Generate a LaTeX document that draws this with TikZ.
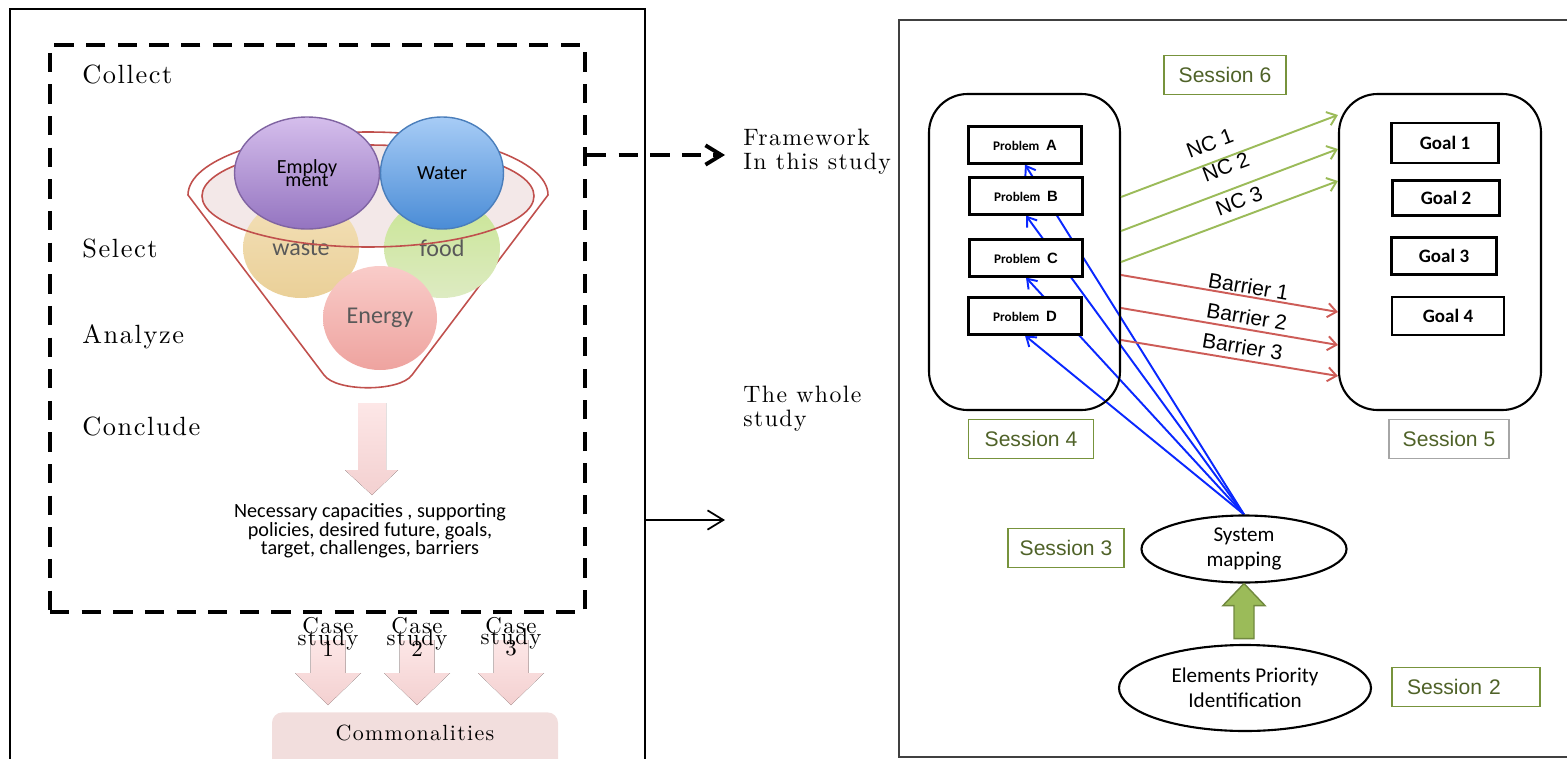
\documentclass[tikz,border=0pt]{standalone}
\usepackage{fontspec}
\newfontfamily\calibri{Carlito}
\newfontfamily\arialfont{Liberation Sans}
\newfontfamily\schfont{lmroman10-regular.otf}[LetterSpace=6]
\usepackage{xcolor}
\definecolor{funnelred}{HTML}{C0504D}
\definecolor{funnelsoft}{HTML}{F3E8E8}
\definecolor{greytext}{HTML}{595959}
\definecolor{empltop}{HTML}{D5BEEC}
\definecolor{emplbot}{HTML}{9474C0}
\definecolor{empldraw}{HTML}{8064A2}
\definecolor{watertop}{HTML}{A7CCF6}
\definecolor{waterbot}{HTML}{4A8CD6}
\definecolor{waterdraw}{HTML}{4A7EBB}
\definecolor{wastetop}{HTML}{F3E0B8}
\definecolor{wastebot}{HTML}{EAD098}
\definecolor{foodtop}{HTML}{C9E594}
\definecolor{foodbot}{HTML}{DDEBC2}
\definecolor{energytop}{HTML}{F9CCC9}
\definecolor{energybot}{HTML}{EEA39F}
\definecolor{pinktop}{HTML}{FDE7E7}
\definecolor{pinkbot}{HTML}{F3D0D0}
\definecolor{commfill}{HTML}{F2DEDD}
\definecolor{sessgreen}{HTML}{77933C}
\definecolor{sesstext}{HTML}{4F6228}
\definecolor{ncgreen}{HTML}{9BBB59}
\definecolor{barred}{HTML}{CD5C57}
\definecolor{mapblue}{HTML}{0A28FF}
\definecolor{arrowgreendark}{HTML}{71893F}
\usepackage{tikz}
\usetikzlibrary{shapes.geometric,arrows.meta,backgrounds,calc}
\lineskiplimit=-20pt % lets the stacked labels overlap as in the original
\newcommand\probletter[1]{{\arialfont\bfseries\fontsize{8.5}{9}\selectfont #1}}

\begin{document}
\begin{tikzpicture}[
  panel/.style={draw,line width=1.1pt,inner sep=0pt},
  stage/.style={anchor=west,inner sep=0pt,font=\schfont\fontsize{15}{18}\selectfont},
  note/.style={anchor=west,inner sep=0pt,align=left,font=\schfont\fontsize{13.5}{13.7}\selectfont},
  blob/.style={ellipse,inner sep=0pt,align=center,text=greytext,font=\calibri\fontsize{13.7}{16}\selectfont},
  bigblob/.style={ellipse,inner sep=0pt,align=center,line width=0.8pt,
    font=\calibri\fontsize{11.4}{7.4}\selectfont},
  pinkarrow/.style={top color=pinktop,bottom color=pinkbot,draw=none},
  casetext/.style={align=center,inner sep=0pt,font=\schfont\fontsize{13}{6.3}\selectfont},
  probbox/.style={draw,line width=1.2pt,fill=white,minimum width=2.26cm,minimum height=0.74cm,
    inner sep=0pt,font=\calibri\bfseries\fontsize{7.5}{9}\selectfont},
  goalbox/.style={draw,line width=1.2pt,fill=white,minimum width=2.14cm,minimum height=0.76cm,
    inner sep=0pt,font=\calibri\bfseries\fontsize{10.8}{13}\selectfont},
  grpbox/.style={draw,line width=1.2pt,rounded corners=22pt,minimum height=6.32cm,inner sep=0pt},
  session/.style={draw=sessgreen,line width=0.6pt,text=sesstext,minimum width=2.44cm,
    minimum height=0.78cm,inner sep=0pt,font=\arialfont\fontsize{12}{14}\selectfont},
  oval/.style={ellipse,draw,line width=1.2pt,inner sep=0pt,align=center,
    font=\calibri\fontsize{12}{14.5}\selectfont},
  flabel/.style={sloped,inner sep=0pt,text=black,font=\arialfont\fontsize{12}{14}\selectfont},
  ncline/.style={ncgreen,line width=1.1pt,-{Straight Barb[length=5pt,width=8pt]}},
  barline/.style={barred,line width=1.1pt,-{Straight Barb[length=5pt,width=8pt]}},
  mapline/.style={mapblue,line width=1.1pt,-{Straight Barb[length=5pt,width=7pt]}}]
  \useasboundingbox (0,0) rectangle (31.34,-15.18);

  % --- Left panel: the whole study ---
  \node[panel,minimum width=12.7cm,minimum height=15.42cm] (left) at (6.55,-7.89) {};
  \node[draw,line width=2.2pt,dash pattern=on 11pt off 7pt,minimum width=10.7cm,
        minimum height=11.34cm,inner sep=0pt] (frame) at (6.35,-6.57) {};
  \node[stage] (collect) at (1.64,-1.48) {Collect};
  \node[stage] (select) at (1.64,-4.96) {Select};
  \node[stage] (analyze) at (1.64,-6.74) {Analyze};
  \node[stage] (conclude) at (1.64,-8.52) {Conclude};

  % --- Funnel ---
  \draw[funnelred,line width=0.9pt] (3.76,-3.9)
    arc[start angle=180,end angle=0,x radius=3.6,y radius=1.26]
    -- (8.24,-7.5) .. controls (8.0,-7.84) and (6.72,-7.84) .. (6.48,-7.5) -- cycle;
  \fill[funnelsoft] (7.36,-3.92) ellipse[x radius=3.32,y radius=1.02];
  \node[blob,top color=wastetop,bottom color=wastebot,minimum width=2.32cm,minimum height=2cm]
    (waste) at (6.02,-4.96) {waste};
  \node[blob,top color=foodtop,bottom color=foodbot,minimum width=2.32cm,minimum height=2cm]
    (food) at (8.84,-4.96) {food};
  \draw[funnelred,line width=0.9pt] (7.36,-3.92) ellipse[x radius=3.32,y radius=1.02];
  \node[blob,top color=energytop,bottom color=energybot,minimum width=2.28cm,minimum height=2.08cm]
    (energy) at (7.6,-6.36) {Energy};
  \node[bigblob,top color=empltop,bottom color=emplbot,draw=empldraw,minimum width=2.9cm,
    minimum height=2.24cm] (empl) at (6.14,-3.46) {Employ\\ment};
  \node[bigblob,top color=watertop,bottom color=waterbot,draw=waterdraw,minimum width=2.46cm,
    minimum height=2.24cm] (water) at (8.84,-3.46) {Water};

  % --- Outcome ---
  \fill[pinkarrow] (7.16,-8.06) -- (7.72,-8.06) -- (7.72,-9.4) -- (7.96,-9.4)
    -- (7.44,-9.9) -- (6.9,-9.4) -- (7.16,-9.4) -- cycle;
  \node[align=center,font=\calibri\fontsize{11.5}{10.5}\selectfont]
    (outcome) at (7.4,-10.62) {Necessary capacities , supporting\\policies, desired future, goals,\\target, challenges, barriers};

  % --- Case studies ---
  \foreach \x/\n in {6.56/1,8.34/2,10.22/3}{
    \fill[pinkarrow] (\x-0.35,-12.8) -- (\x+0.35,-12.8) -- (\x+0.35,-13.46) -- (\x+0.66,-13.46)
      -- (\x,-14.1) -- (\x-0.66,-13.46) -- (\x-0.35,-13.46) -- cycle;
    \node[casetext] (case\n) at (\x,-12.74) {Case\\study\\\n};
  }
  \node[fill=commfill,rounded corners=6pt,minimum width=5.72cm,inner ysep=0.26cm,text depth=0.8cm,
        anchor=north,font=\schfont\fontsize{12.5}{15}\selectfont]
    (comm) at (8.3,-14.24) {Commonalities};

  % --- Links to the framework ---
  \coordinate (fwtip) at (14.5,-3.1);
  \coordinate (wholetip) at (14.5,-10.4);
  \draw[line width=2.2pt,dash pattern=on 11pt off 7pt,-{Straight Barb[length=9pt,width=11pt]}]
    (frame.east |- fwtip) -- (fwtip);
  \draw[line width=1pt,-{Straight Barb[length=9pt,width=11pt]}] (left.east |- wholetip) -- (wholetip);
  \node[note] (fw) at (14.86,-3.04) {Framework\\In this study};
  \node[note] (whole) at (14.86,-8.18) {The whole\\study};

  % --- Right panel: the framework ---
  \node[panel,draw=black!75,minimum width=13.82cm,minimum height=14.74cm] (right) at (24.89,-7.77) {};
  \node[grpbox,minimum width=3.82cm] (probs) at (20.49,-5.04) {};
  \node[grpbox,minimum width=4.04cm] (goals) at (28.8,-5.04) {};

  \node[probbox] (pA) at (20.5,-2.9) {Problem\enspace\probletter{A}};
  \node[probbox] (pB) at (20.52,-3.92) {Problem\enspace\probletter{B}};
  \node[probbox] (pC) at (20.52,-5.16) {Problem\enspace\probletter{C}};
  \node[probbox] (pD) at (20.5,-6.32) {Problem\enspace\probletter{D}};

  \node[goalbox,minimum height=0.8cm] (g1) at (28.9,-2.86) {Goal 1};
  \node[goalbox,minimum height=0.7cm] (g2) at (28.92,-3.96) {Goal 2};
  \node[goalbox,minimum width=2.1cm,minimum height=0.74cm] (g3) at (28.88,-5.12) {Goal 3};
  \node[goalbox,minimum width=2.24cm] (g4) at (28.96,-6.32) {Goal 4};

  \node[session] (s6) at (24.5,-1.5) {Session 6};
  \node[session,minimum width=2.5cm] (s4) at (20.62,-8.78) {Session 4};
  \node[session,draw=black!35,minimum width=2.4cm] (s5) at (28.98,-8.78) {Session 5};
  \node[session,minimum width=2.32cm] (s3) at (21.32,-10.96) {Session 3};
  \node[session,text width=2.36cm,inner xsep=0.3cm,align=left] (s2) at (29.32,-13.74) {Session 2};

  \node[oval,minimum width=4.1cm,minimum height=1.34cm] (sysmap) at (24.88,-10.98) {System\\mapping};
  \node[oval,minimum width=5.04cm,minimum height=1.72cm] (epi) at (24.9,-13.76) {Elements Priority\\Identification};

  % --- Necessary conditions and barriers ---
  \draw[ncline] ([yshift=1.1cm]probs.east) -- node[flabel,pos=0.44,above=5.9pt] {NC 1} ([yshift=2.74cm]goals.west);
  \draw[ncline] ([yshift=0.42cm]probs.east) -- node[flabel,pos=0.52,above=8.2pt] {NC 2} ([yshift=2.06cm]goals.west);
  \draw[ncline] ([yshift=-0.2cm]probs.east) -- node[flabel,pos=0.57,above=4.2pt] {NC 3} ([yshift=1.42cm]goals.west);
  \draw[barline] ([yshift=-0.46cm]probs.east) -- node[flabel,pos=0.58,above=0.8pt] {Barrier 1} ([yshift=-1.2cm]goals.west);
  \draw[barline] ([yshift=-1.12cm]probs.east) -- node[flabel,pos=0.57,above=2.2pt] {Barrier 2} ([yshift=-1.86cm]goals.west);
  \draw[barline] ([yshift=-1.76cm]probs.east) -- node[flabel,pos=0.55,above=2.6pt] {Barrier 3} ([yshift=-2.48cm]goals.west);

  % --- System mapping feeds the problems ---
  \draw[fill=ncgreen,draw=arrowgreendark,line width=0.8pt] (sysmap.south) -- ++(0.42,-0.44)
    -- ++(-0.22,0) -- ++(0,-0.66) -- ++(-0.4,0) -- ++(0,0.66) -- ++(-0.22,0) -- cycle;
  \begin{scope}[on background layer]
    \foreach \p in {pA,pB,pC,pD} \draw[mapline] (sysmap.north) -- (\p.south);
  \end{scope}
\end{tikzpicture}
\end{document}
